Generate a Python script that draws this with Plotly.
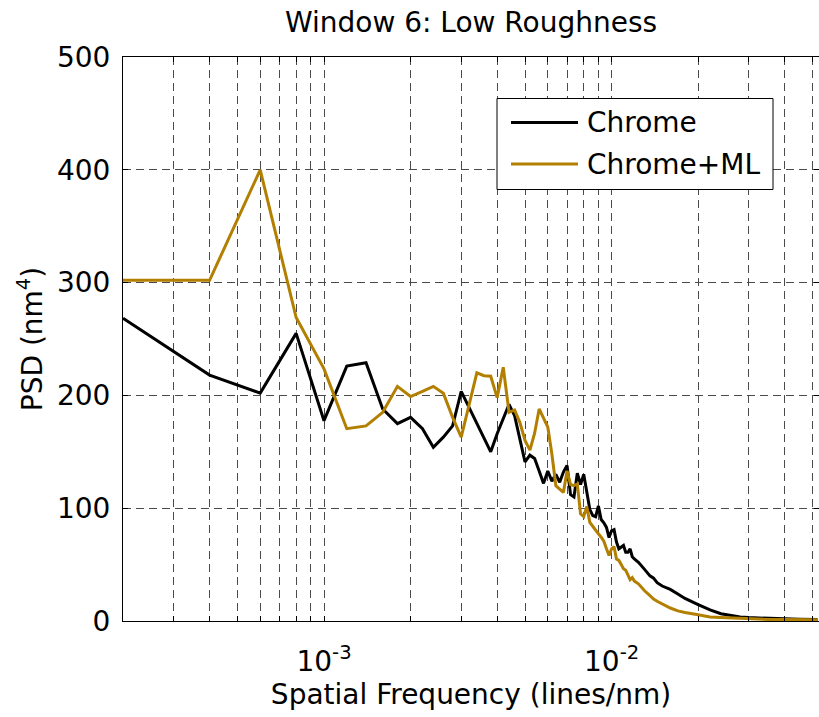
import plotly.graph_objects as go

# ---- data ----
freq = [0.0002, 0.0004, 0.0006, 0.0008, 0.0010, 0.0012, 0.0014, 0.0016, 0.0018, 0.0020,
        0.0022, 0.0024, 0.0026, 0.0028, 0.0030, 0.0032, 0.0034, 0.0036, 0.0038, 0.0040,
        0.0042, 0.0044, 0.0046, 0.0048, 0.0050, 0.0052, 0.0054, 0.0056, 0.0058, 0.0060,
        0.0062, 0.0064, 0.0066, 0.0068, 0.0070, 0.0072, 0.0074, 0.0076, 0.0078, 0.0080,
        0.0082, 0.0084, 0.0086, 0.0088, 0.0090, 0.0092, 0.0094, 0.0096, 0.0098, 0.0100,
        0.0102, 0.0104, 0.0106, 0.0108, 0.0110, 0.0112, 0.0114, 0.0116, 0.0118, 0.0120,
        0.0124, 0.0130, 0.0136, 0.0140, 0.0144, 0.0150, 0.0160, 0.0170, 0.0180, 0.0200,
        0.0220, 0.0240, 0.0260, 0.0280, 0.0300, 0.0350, 0.0400, 0.0450, 0.0520]

chrome = [268.5, 218, 202, 255, 177.6, 226, 229, 188, 175, 180.5,
          170.5, 154, 163, 173, 203.5, 189, 176, 163, 150, 166,
          180, 192, 182, 160, 141, 147, 144, 133, 122, 133,
          124, 130, 123, 132, 138, 112, 110, 131, 121, 130,
          116, 99, 93.5, 92.5, 102, 90, 87, 83, 74, 80,
          81, 70, 64, 65.5, 67, 61, 61, 64, 57, 55,
          52, 46, 40, 38, 34, 31, 28, 24, 20, 14.5,
          9.8, 6.5, 4.8, 3.5, 3.0, 2.2, 1.8, 1.5, 1.3]

chrome_ml = [302, 302, 400, 269, 223.5, 170.5, 173, 185, 208, 199,
             203.5, 208, 202, 180.5, 163, 192, 220, 217.5, 217, 198,
             225, 185, 187, 176, 160, 151.5, 166.5, 188, 180.5, 172,
             148, 120, 117, 114, 133, 121, 120, 121.5, 95, 92.5,
             101.5, 87.5, 84, 80, 77.3, 74.3, 70.8, 64, 58, 64,
             66, 55, 53.7, 50, 46.4, 45, 40.5, 36.6, 38.4, 35.4,
             33, 27, 22.5, 19.5, 17.5, 15, 11.5, 9, 7.5, 5.5,
             3.5, 3.0, 2.6, 2.4, 2.3, 1.4, 1.3, 1.2, 1.2]

series_names = ["Chrome", "Chrome+ML"]
series_colors = ["#000000", "#B27F00"]

major_x = [1e-3, 1e-2]
major_x_text = ["10<sup>-3</sup>", "10<sup>-2</sup>"]
minor_x = [2e-4, 3e-4, 4e-4, 5e-4, 6e-4, 7e-4, 8e-4, 9e-4,
           2e-3, 3e-3, 4e-3, 5e-3, 6e-3, 7e-3, 8e-3, 9e-3,
           2e-2, 3e-2, 4e-2, 5e-2]

FONT = "DejaVu Sans"
FS = 28
GRID = dict(gridcolor="#4a4a4a", gridwidth=1, griddash="8px,5px")

fig = go.Figure()
for name, ys, col in zip(series_names, [chrome, chrome_ml], series_colors):
    fig.add_trace(go.Scatter(x=freq, y=ys, mode="lines", name=name,
                             line=dict(color=col, width=3), showlegend=False))

W, H = 819, 717
L, R, T, B = 123, 0, 57, 96

axis_common = dict(showline=True, linecolor="black", linewidth=1, mirror="allticks",
                   ticks="inside", ticklen=5, tickcolor="black", tickwidth=1,
                   showgrid=True, zeroline=False,
                   tickfont=dict(family=FONT, size=FS, color="black"), **GRID)

fig.update_layout(
    width=W, height=H,
    margin=dict(l=L, r=R, t=T, b=B, pad=0),
    paper_bgcolor="white", plot_bgcolor="white",
    font=dict(family=FONT, size=FS, color="black"),
    title=dict(text="Window 6: Low Roughness", x=0.5, xref="paper", xanchor="center",
               y=1 - 22 / H, yref="container", yanchor="middle",
               font=dict(family=FONT, size=FS, color="black")),
    xaxis=dict(type="log", range=[-3.699, -1.2787], tickmode="array",
               tickvals=major_x, ticktext=major_x_text,
               ticklabelstandoff=15,
               minor=dict(tickmode="array", tickvals=minor_x, ticks="inside", ticklen=5,
                          tickcolor="black", showgrid=True, **GRID),
               title=dict(text="Spatial Frequency (lines/nm)", standoff=0,
                          font=dict(family=FONT, size=FS)),
               **axis_common),
    yaxis=dict(range=[0, 500], tickmode="linear", tick0=0, dtick=100,
               title=dict(text="PSD (nm<sup>4</sup>)", standoff=6,
                          font=dict(family=FONT, size=FS)),
               ticklabelstandoff=6,
               **axis_common),
)

# legend box drawn in paper coordinates
pw, ph = W - L - R, H - T - B
def px_x(p):
    return (p - L) / pw
def px_y(p):
    return (H - B - p) / ph

fig.add_shape(type="rect", xref="paper", yref="paper",
              x0=px_x(497), x1=px_x(773), y0=px_y(189.5), y1=px_y(98.5),
              line=dict(color="black", width=1), fillcolor="white", layer="above")
rows = [122.5, 164]
for name, col, ry in zip(series_names, series_colors, rows):
    fig.add_shape(type="line", xref="paper", yref="paper",
                  x0=px_x(511), x1=px_x(578), y0=px_y(ry), y1=px_y(ry),
                  line=dict(color=col, width=3), layer="above")
    fig.add_annotation(xref="paper", yref="paper", x=px_x(585), y=px_y(ry),
                       xanchor="left", yanchor="middle", text=name, showarrow=False,
                       font=dict(family=FONT, size=FS, color="black"))

fig.write_html("out.html")
